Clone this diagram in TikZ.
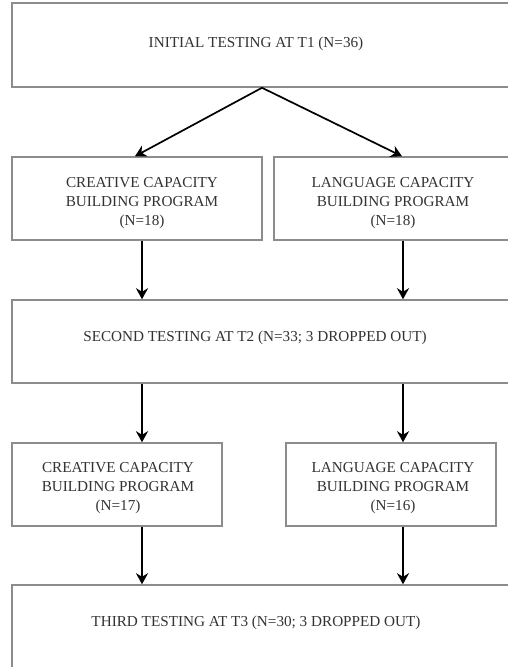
\documentclass[tikz,border=0pt]{standalone}
\usepackage{fontspec}
\setmainfont{Liberation Serif}
\usetikzlibrary{arrows.meta}
\definecolor{boxgray}{HTML}{8C8C8C}
\definecolor{txtgray}{HTML}{333333}
\tikzset{
  box/.style={draw=boxgray, line width=1.5pt, rectangle, inner sep=0pt, fill=white},
  lbl/.style={text=txtgray, font=\fontsize{15.2}{19.2}\selectfont, align=center, inner sep=0pt},
  arr/.style={draw=black, line width=1.7pt, -{Stealth[length=11pt,width=12pt,inset=3.5pt]}}
}
\begin{document}
\begin{tikzpicture}[x=1pt,y=-1pt]
\useasboundingbox (0,0) rectangle (508,667);
\clip (0,0) rectangle (508,667);
\fill[white] (0,0) rectangle (508,667);
\coordinate (cl) at (142,0);
\coordinate (cr) at (403,0);
\coordinate (sp) at (262,0);
% boxes (wide ones run past the right edge of the picture)
\node[box, minimum width=518pt, minimum height=84pt] (t1) at (271,45) {};
\node[box, minimum width=250pt, minimum height=83pt] (cc1) at (137,198.5) {};
\node[box, minimum width=246pt, minimum height=83pt] (lc1) at (397,198.5) {};
\node[box, minimum width=518pt, minimum height=83pt] (t2) at (271,341.5) {};
\node[box, minimum width=210pt, minimum height=83pt] (cc2) at (117,484.5) {};
\node[box, minimum width=210pt, minimum height=83pt] (lc2) at (391,484.5) {};
\node[box, minimum width=518pt, minimum height=110pt] (t3) at (271,640) {};
% texts
\node[lbl] (t1txt) at (256,44) {INITIAL TESTING AT T1 (N=36)};
\node[lbl] (cc1txt) at (142,203) {CREATIVE CAPACITY\\BUILDING PROGRAM\\(N=18)};
\node[lbl] (lc1txt) at (393,203) {LANGUAGE CAPACITY\\BUILDING PROGRAM\\(N=18)};
\node[lbl] (t2txt) at (255,338) {SECOND TESTING AT T2 (N=33; 3 DROPPED OUT)};
\node[lbl] (cc2txt) at (118,488) {CREATIVE CAPACITY\\BUILDING PROGRAM\\(N=17)};
\node[lbl] (lc2txt) at (393,488) {LANGUAGE CAPACITY\\BUILDING PROGRAM\\(N=16)};
\node[lbl] (t3txt) at (256,623) {THIRD TESTING AT T3 (N=30; 3 DROPPED OUT)};
% connectors
\draw[arr] (t1.south -| sp) -- ([xshift=-2pt]cc1.north);
\draw[arr] (t1.south -| sp) -- (lc1.north -| 402,0);
\draw[arr] (cc1.south -| cl) -- (t2.north -| cl);
\draw[arr] (lc1.south -| cr) -- (t2.north -| cr);
\draw[arr] (t2.south -| cl) -- (cc2.north -| cl);
\draw[arr] (t2.south -| cr) -- (lc2.north -| cr);
\draw[arr] (cc2.south -| cl) -- (t3.north -| cl);
\draw[arr] (lc2.south -| cr) -- (t3.north -| cr);
\end{tikzpicture}
\end{document}
